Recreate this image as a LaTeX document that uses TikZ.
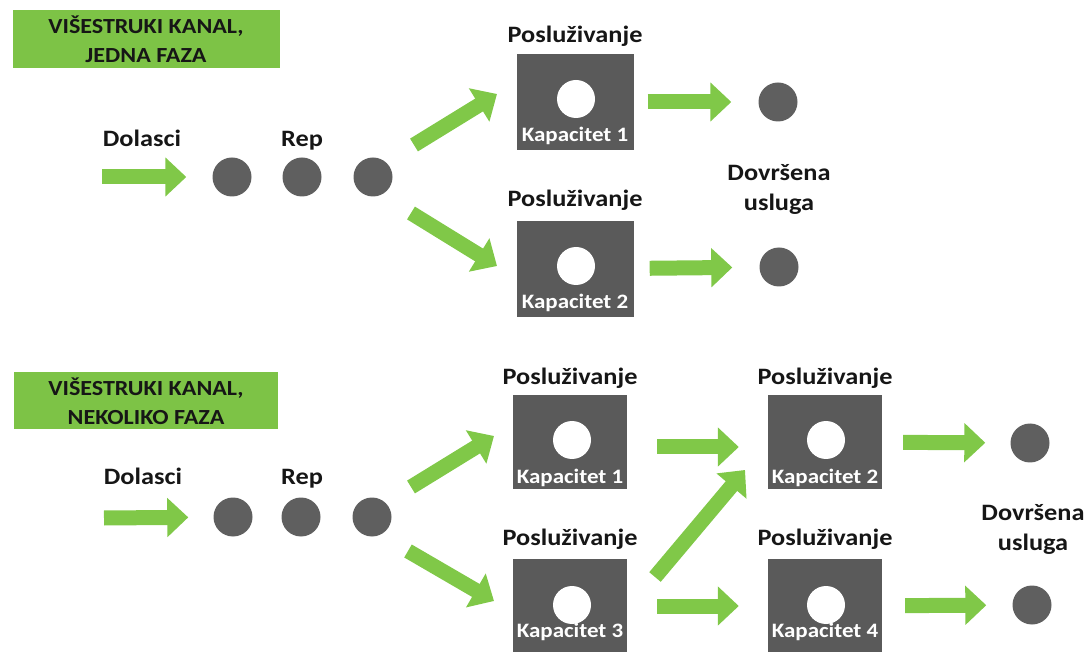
\documentclass[tikz,border=0pt]{standalone}
\usepackage{fontspec}
\setmainfont{Carlito}[FakeStretch=1.12]
\usetikzlibrary{arrows.meta}

\definecolor{flowgreen}{RGB}{128,200,72}
\definecolor{labelgreen}{RGB}{125,195,70}
\definecolor{boxgray}{RGB}{90,90,90}
\definecolor{dotgray}{RGB}{95,95,95}
\definecolor{inkdark}{RGB}{22,22,22}

\tikzset{
  flow/.style={draw=flowgreen, line width=15pt, -{Triangle[width=38pt,length=21pt]}},
  qdot/.style={circle, fill=dotgray, minimum size=39pt, inner sep=0pt},
  hole/.style={circle, fill=white, minimum size=38pt, inner sep=0pt},
  srvbox/.style={fill=boxgray, minimum width=117pt, minimum height=96pt, inner sep=0pt},
  srvsmall/.style={srvbox, minimum width=114pt, minimum height=94pt},
  hdr/.style={fill=labelgreen, minimum width=267pt, minimum height=58pt, align=center,
    text=inkdark, font=\bfseries\fontsize{21.5}{29}\selectfont},
  lbl/.style={text=inkdark, font=\bfseries\fontsize{23.5}{30}\selectfont, inner sep=0pt, align=center},
  captxt/.style={text=white, font=\bfseries\fontsize{20.5}{22}\selectfont, inner sep=0pt, anchor=base}
}

\begin{document}
\begin{tikzpicture}[x=1pt, y=-1pt]
            \useasboundingbox (0,0) rectangle (1088,652);

            %un canale, una fase: titolo
            \node[hdr] (hdr1) at (146,39) {VIŠESTRUKI KANAL,\\JEDNA FAZA};

            %arrivi e coda
            \node[lbl, anchor=base] (dol1) at (142,147) {Dolasci};
            \node[lbl, anchor=base] (rep1) at (302,147) {Rep};
            \coordinate (in1) at (102,177);
            \node[qdot] (q1a) at (232,177) {};
            \node[qdot] (q1b) at (302,177) {};
            \node[qdot] (q1c) at (373,177) {};

            %due serventi
            \node[srvbox] (s1) at (575,102) {};
            \node[hole] (h1) at (576,99) {};
            \node[captxt] (c1) at (575,142) {Kapacitet 1};
            \node[lbl, anchor=base] (p1) at (575,43) {Posluživanje};

            \node[srvbox] (s2) at (575,269) {};
            \node[hole] (h2) at (576,266) {};
            \node[captxt] (c2) at (575,309) {Kapacitet 2};
            \node[lbl, anchor=base] (p2) at (575,207) {Posluživanje};

            %servizio completato
            \node[qdot] (d1) at (778,102) {};
            \node[qdot] (d2) at (779,267) {};
            \node[lbl] (dov1) at (779,189) {Dovršena\\usluga};

            %estremi delle frecce oblique
            \coordinate (f1a) at (414,145);
            \coordinate (t1a) at (497,94);
            \coordinate (f1b) at (411,213);
            \coordinate (t1b) at (497,266);

            %frecce
            \draw[flow, shorten >=26pt] (in1) -- (q1a);
            \draw[flow] (f1a) -- (t1a);
            \draw[flow] (f1b) -- (t1b);
            \draw[flow, shorten <=14pt, shorten >=27pt] (s1) -- (d1);
            \draw[flow, shorten <=16pt, shorten >=27pt] (s2) -- (d2);

            %piu canali, piu fasi: titolo
            \node[hdr, minimum width=264pt, minimum height=57pt] (hdr2) at (146,401) {VIŠESTRUKI KANAL,\\NEKOLIKO FAZA};

            %arrivi e coda
            \node[lbl, anchor=base] (dol2) at (143,485) {Dolasci};
            \node[lbl, anchor=base] (rep2) at (302,485) {Rep};
            \coordinate (in2) at (104,518);
            \node[qdot] (q2a) at (233,517) {};
            \node[qdot] (q2b) at (301,517) {};
            \node[qdot] (q2c) at (372,517) {};

            %prima fase
            \node[srvsmall] (k1) at (570,442) {};
            \node[hole] (h3) at (572,440) {};
            \node[captxt] (c3) at (570,483) {Kapacitet 1};
            \node[lbl, anchor=base] (p3) at (570,385) {Posluživanje};

            \node[srvsmall] (k3) at (570,606) {};
            \node[hole] (h5) at (572,605) {};
            \node[captxt] (c5) at (570,637) {Kapacitet 3};
            \node[lbl, anchor=base] (p5) at (570,545) {Posluživanje};

            %seconda fase
            \node[srvsmall] (k2) at (825,442) {};
            \node[hole] (h4) at (826,440) {};
            \node[captxt] (c4) at (825,483) {Kapacitet 2};
            \node[lbl, anchor=base] (p4) at (825,385) {Posluživanje};

            \node[srvsmall] (k4) at (825,606) {};
            \node[hole] (h6) at (826,605) {};
            \node[captxt] (c6) at (825,637) {Kapacitet 4};
            \node[lbl, anchor=base] (p6) at (825,545) {Posluživanje};

            %servizio completato
            \node[qdot] (e1) at (1030,443) {};
            \node[qdot] (e2) at (1032,605) {};
            \node[lbl] (dov2) at (1033,529) {Dovršena\\usluga};

            %estremi delle frecce oblique
            \coordinate (f2a) at (411,487);
            \coordinate (t2a) at (494,436);
            \coordinate (f2b) at (408,551);
            \coordinate (t2b) at (494,601);
            \coordinate (f3) at (655,577);
            \coordinate (t3) at (745,470);

            %frecce
            \draw[flow, shorten >=25pt] (in2) -- (q2a);
            \draw[flow] (f2a) -- (t2a);
            \draw[flow] (f2b) -- (t2b);
            \draw[flow, shorten <=30pt, shorten >=29pt] ([yshift=-5pt]k1.east) -- ([yshift=-5pt]k2.west);
            \draw[flow] (f3) -- (t3);
            \draw[flow, shorten <=30pt, shorten >=29pt] (k3) -- (k4);
            \draw[flow, shorten <=21pt, shorten >=25pt] (k2) -- (e1);
            \draw[flow, shorten <=23pt, shorten >=26pt] (k4) -- (e2);

        \end{tikzpicture}
\end{document}
